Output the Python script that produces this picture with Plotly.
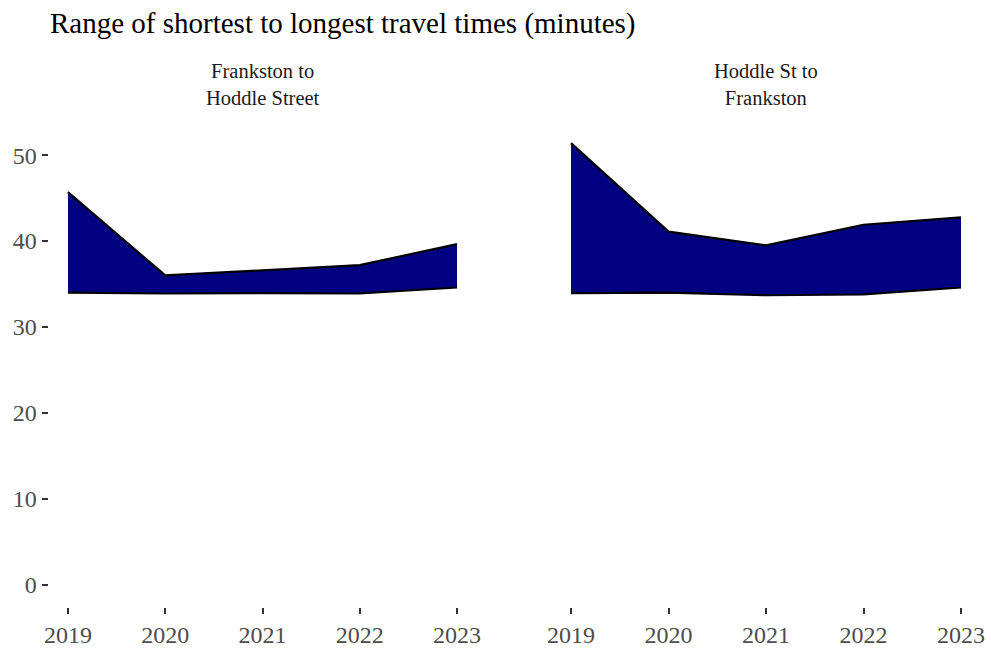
import plotly.graph_objects as go

years = [2019, 2020, 2021, 2022, 2023]
panels = ["Frankston to<br>Hoddle Street", "Hoddle St to<br>Frankston"]
fh_min = [34.0, 33.9, 33.95, 33.9, 34.6]
fh_max = [45.7, 36.0, 36.6, 37.2, 39.65]
hf_min = [33.95, 34.0, 33.7, 33.8, 34.6]
hf_max = [51.4, 41.1, 39.5, 41.9, 42.75]
y_ticks = [0, 10, 20, 30, 40, 50]

FONT = "Liberation Serif, Times New Roman, serif"
NAVY = "#000080"

fig = go.Figure()
for i, (lo, hi) in enumerate([(fh_min, fh_max), (hf_min, hf_max)]):
    xa = "x" if i == 0 else "x2"
    fig.add_trace(go.Scatter(x=years, y=lo, mode="lines", line=dict(color="black", width=2.2),
                             xaxis=xa, yaxis="y", showlegend=False, hoverinfo="skip"))
    fig.add_trace(go.Scatter(x=years, y=hi, mode="lines", line=dict(color="black", width=2.2),
                             fill="tonexty", fillcolor=NAVY,
                             xaxis=xa, yaxis="y", showlegend=False, hoverinfo="skip"))

W, H = 991, 653
xd1 = [48.5 / W, 476.5 / W]
xd2 = [551.5 / W, 980.5 / W]
yd = [(H - 607) / H, (H - 121) / H]
yr = [-2.57, 53.97]
xr = [2018.8, 2023.2]
common_x = dict(range=xr, tickvals=years, ticktext=[str(y) for y in years],
                showgrid=False, zeroline=False, showline=False, automargin=False,
                ticks="outside", ticklen=6, tickwidth=1.5, tickcolor="#333333",
                tickfont=dict(family=FONT, size=24, color="#4d4d4d"), anchor="y")
fig.update_layout(
    width=W, height=H,
    margin=dict(l=0, r=0, t=0, b=0, autoexpand=False),
    plot_bgcolor="white", paper_bgcolor="white",
    xaxis=dict(domain=xd1, **common_x),
    xaxis2=dict(domain=xd2, **common_x),
    yaxis=dict(domain=yd, range=yr, tickvals=y_ticks, automargin=False,
               showgrid=False, zeroline=False, showline=False,
               ticks="outside", ticklen=6, tickwidth=1.5, tickcolor="#333333",
               tickfont=dict(family=FONT, size=24, color="#4d4d4d")),
    title=dict(text="Range of shortest to longest travel times (minutes)",
               x=50 / W, xanchor="left", y=1 - 23 / H, yanchor="middle",
               font=dict(family=FONT, size=29, color="black")),
)
for i, name in enumerate(panels):
    d = xd1 if i == 0 else xd2
    fig.add_annotation(text=name, x=(d[0] + d[1]) / 2, y=1 - 111 / H, xref="paper", yref="paper",
                       xanchor="center", yanchor="bottom", showarrow=False,
                       font=dict(family=FONT, size=20.5, color="#1a1a1a"))

fig.write_html("out.html", config={"displayModeBar": False},
               post_script="document.body.style.margin='0';")
